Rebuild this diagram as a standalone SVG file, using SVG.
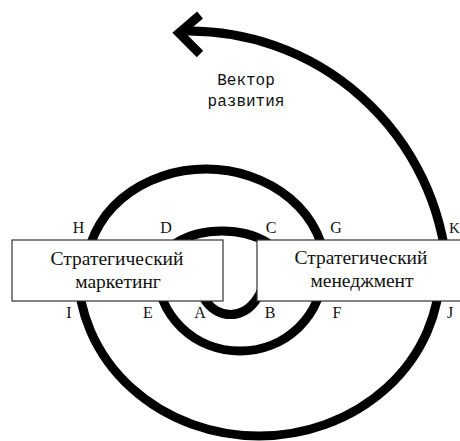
<svg xmlns="http://www.w3.org/2000/svg" width="460" height="441" viewBox="0 0 460 441">
<style>
.arc{fill:none;stroke:#000;stroke-width:9}
.box{fill:#fff;stroke:#333;stroke-width:1.2}
.bt{font-family:"Liberation Serif","Times New Roman",serif;font-size:19.5px;fill:#111;text-anchor:middle}
.pt{font-family:"Liberation Serif","Times New Roman",serif;font-size:16px;fill:#111;text-anchor:middle}
.vt{font-family:"Liberation Mono","Courier New",monospace;font-size:16px;fill:#111;text-anchor:middle}
</style>
<rect width="460" height="441" fill="#fff"/>
<g id="connectors">
<path class="arc" d="M158 270.5 A64 39.5 0 0 1 286 270.5"/>
<path class="arc" d="M196 270.5 A34.5 44 0 0 0 265 270.5"/>
<path class="arc" d="M86.6 270.5 A119.4 101.5 0 0 1 325.4 270.5"/>
<path class="arc" d="M157 270.5 A83 80.5 0 0 0 323 270.5"/>
<path class="arc" d="M78 270.5 A181 165.5 0 0 0 440 270.5"/>
<path class="arc" d="M447 270 A258.9 258.9 0 0 0 181 31.2"/>
<polyline class="arc" stroke-linejoin="miter" points="200,15 179,33 200,54"/>
</g>
<g id="node-marketing">
<rect class="box" x="12" y="240" width="211" height="61"/>
<text class="bt" x="117" y="265">Стратегический</text>
<text class="bt" x="118" y="288">маркетинг</text>
</g>
<g id="node-management">
<rect class="box" x="257" y="240" width="210" height="61"/>
<text class="bt" x="361" y="264">Стратегический</text>
<text class="bt" x="362" y="287">менеджмент</text>
</g>
<g id="vector-label">
<text class="vt" x="246" y="85">Вектор</text>
<text class="vt" x="246" y="106">развития</text>
</g>
<g id="point-labels">
<text class="pt" x="78.5" y="233">H</text>
<text class="pt" x="166" y="233">D</text>
<text class="pt" x="271" y="233">C</text>
<text class="pt" x="336" y="233">G</text>
<text class="pt" x="449" y="233" style="text-anchor:start;font-size:15px">K</text>
<text class="pt" x="69" y="318">I</text>
<text class="pt" x="148" y="318">E</text>
<text class="pt" x="200" y="318">A</text>
<text class="pt" x="270" y="318">B</text>
<text class="pt" x="337" y="318">F</text>
<text class="pt" x="450" y="318">J</text>
</g>
</svg>
